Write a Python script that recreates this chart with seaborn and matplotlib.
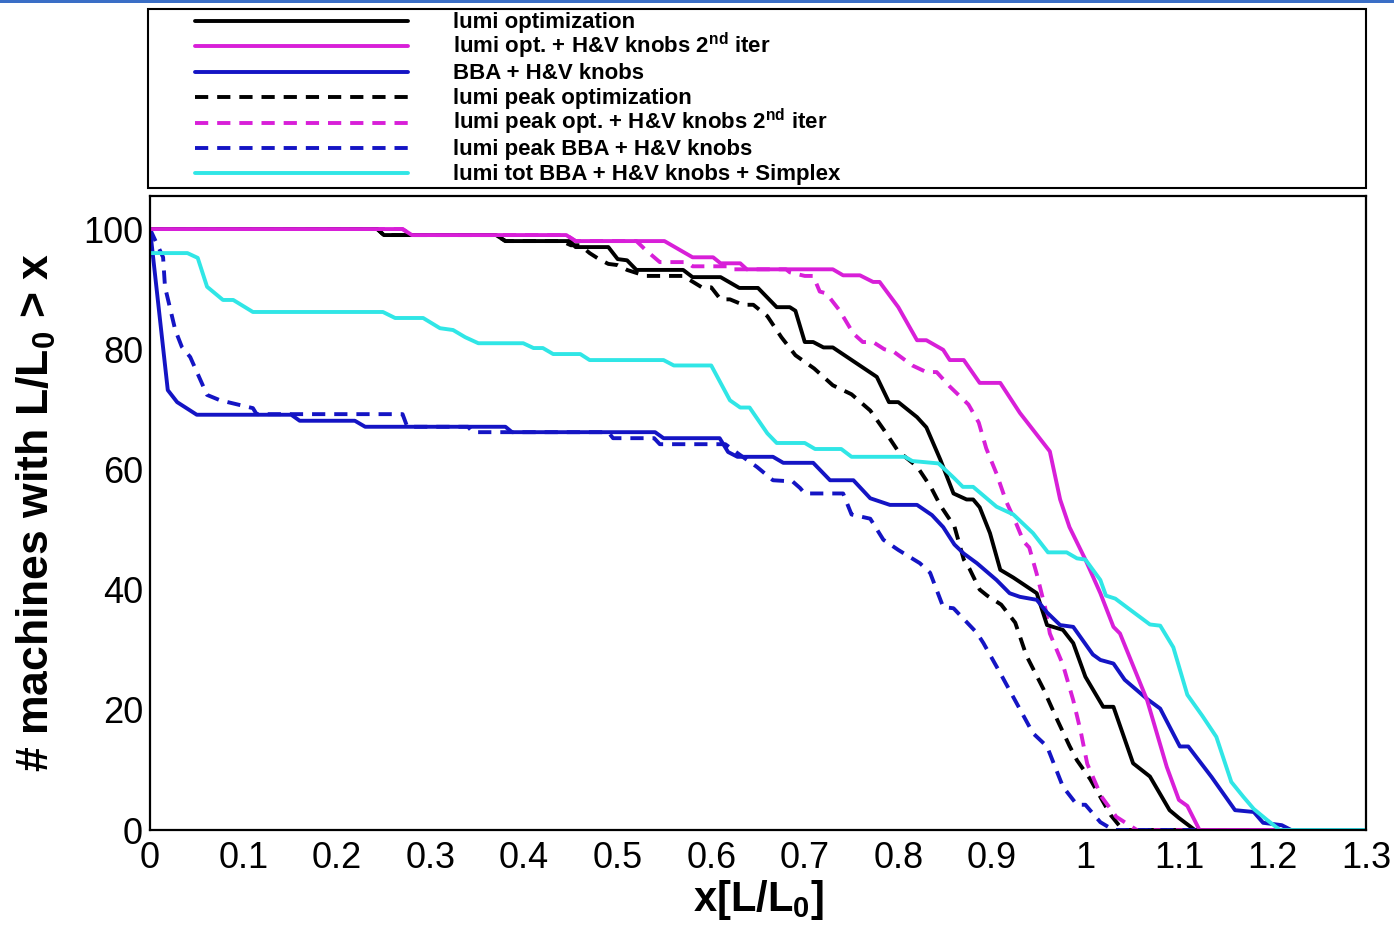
import matplotlib
matplotlib.use("Agg")
import matplotlib.pyplot as plt
import numpy as np
import pandas as pd
import seaborn as sns
from matplotlib.patches import Rectangle
from matplotlib.lines import Line2D

# ---------------- data ----------------
x_lumi_opt = [0, 0.243, 0.25, 0.37, 0.38, 0.449, 0.455, 0.49, 0.50, 0.51,
              0.52, 0.57, 0.58, 0.61, 0.63, 0.65, 0.67, 0.684, 0.69, 0.70,
              0.709, 0.72, 0.73, 0.777, 0.79, 0.80, 0.82, 0.83, 0.845, 0.859,
              0.873, 0.88, 0.887, 0.898, 0.909, 0.923, 0.948, 0.959, 0.976, 0.987,
              1.0, 1.019, 1.03, 1.051, 1.069, 1.09, 1.10, 1.117, 1.3]
y_lumi_opt = [100, 100, 99, 99, 98, 98, 97, 97, 95, 94.8,
              93.2, 93.2, 92, 92, 90.2, 90.2, 87, 87, 86.4, 81.2,
              81.2, 80.3, 80.3, 75.4, 71.2, 71.2, 68.7, 67, 61.6, 56,
              55, 55, 53.7, 49.4, 43.3, 42, 39.4, 34.1, 33.3, 31.1,
              25.5, 20.5, 20.5, 11.1, 8.9, 3.3, 2, 0, 0]

x_lumi_opt_hv = [0, 0.27, 0.28, 0.445, 0.455, 0.55, 0.58, 0.602, 0.61, 0.631,
                 0.638, 0.73, 0.741, 0.759, 0.773, 0.78, 0.80, 0.82, 0.83, 0.848,
                 0.855, 0.87, 0.887, 0.909, 0.93, 0.944, 0.962, 0.973, 0.983, 1.0,
                 1.016, 1.03, 1.037, 1.066, 1.087, 1.10, 1.109, 1.122, 1.3]
y_lumi_opt_hv = [100, 100, 99, 99, 98, 98, 95.3, 95.3, 94.3, 94.3,
                 93.3, 93.3, 92.3, 92.3, 91.2, 91.2, 87, 81.5, 81.5, 79.9,
                 78.2, 78.2, 74.4, 74.4, 69.4, 66.6, 63, 55, 50.4, 45,
                 39.4, 33.8, 32.7, 21.6, 10.5, 5, 4, 0, 0]

x_bba_hv = [0, 0.019, 0.029, 0.05, 0.151, 0.16, 0.219, 0.23, 0.38, 0.387,
            0.54, 0.549, 0.609, 0.618, 0.628, 0.666, 0.677, 0.709, 0.727, 0.752,
            0.77, 0.791, 0.82, 0.836, 0.848, 0.86, 0.87, 0.884, 0.905, 0.919,
            0.93, 0.948, 0.959, 0.973, 0.987, 1.008, 1.016, 1.03, 1.042, 1.066,
            1.08, 1.098, 1.101, 1.11, 1.135, 1.16, 1.18, 1.19, 1.21, 1.22, 1.3]
y_bba_hv = [100, 73.2, 71.2, 69.1, 69.1, 68.1, 68.1, 67.1, 67.1, 66.2,
            66.2, 65.2, 65.2, 62.9, 62.1, 62.1, 61.1, 61.1, 58.2, 58.2,
            55.2, 54.1, 54.1, 52.4, 50.4, 47.5, 46, 44.4, 41.6, 39.4,
            38.8, 38.3, 36.2, 34.1, 33.8, 29.2, 28.3, 27.7, 25, 21.8,
            20.2, 14.8, 13.9, 13.9, 8.8, 3.3, 3, 1.2, 0.8, 0, 0]

x_peak_opt = [0, 0.243, 0.25, 0.37, 0.38, 0.44, 0.45, 0.46, 0.47, 0.48,
              0.49, 0.50, 0.51, 0.53, 0.57, 0.59, 0.60, 0.61, 0.62, 0.634,
              0.645, 0.66, 0.675, 0.69, 0.71, 0.73, 0.75, 0.77, 0.785, 0.80,
              0.82, 0.835, 0.845, 0.86, 0.87, 0.876, 0.887, 0.895, 0.91, 0.925,
              0.937, 0.955, 0.97, 0.983, 0.991, 1.005, 1.027, 1.04, 1.3]
y_peak_opt = [100, 100, 99, 99, 98, 98, 97.3, 97.3, 96, 95,
              94.2, 94, 93.2, 92.2, 92.2, 90.3, 90.3, 88.3, 88.3, 87.4,
              87.4, 85.5, 82, 79, 76.8, 74, 72.5, 69.8, 66.5, 63,
              60.5, 57, 54, 50.5, 45, 43.5, 40, 39, 37.5, 34.5,
              29, 23.5, 18.3, 14, 11.6, 8.5, 2.5, 0, 0]

x_peak_opt_hv = [0, 0.27, 0.28, 0.445, 0.455, 0.52, 0.53, 0.545, 0.574, 0.58,
                 0.62, 0.624, 0.68, 0.684, 0.70, 0.709, 0.716, 0.723, 0.737, 0.752,
                 0.762, 0.773, 0.785, 0.795, 0.815, 0.83, 0.841, 0.855, 0.875, 0.886,
                 0.894, 0.905, 0.915, 0.926, 0.934, 0.94, 0.948, 0.957, 0.962, 0.976,
                 0.987, 0.995, 1.002, 1.017, 1.033, 1.055, 1.3]
y_peak_opt_hv = [100, 100, 99, 99, 98, 98, 96.5, 94.5, 94.5, 93.8,
                 93.8, 93.3, 93.3, 92.8, 92.2, 92.2, 89.6, 89.3, 86.5, 82.6,
                 81.2, 81.2, 80, 79.6, 77.3, 76.2, 76.2, 73.8, 70.8, 67.8,
                 63.5, 59.3, 54.8, 51, 48, 47, 42.6, 37, 32.7, 27.5,
                 21.6, 16.4, 11, 5.6, 2.2, 0, 0]

x_peak_bba = [0, 0.014, 0.016, 0.027, 0.034, 0.043, 0.061, 0.075, 0.11, 0.114,
              0.27, 0.275, 0.34, 0.345, 0.49, 0.495, 0.539, 0.545, 0.615, 0.63,
              0.649, 0.666, 0.687, 0.695, 0.70, 0.741, 0.75, 0.77, 0.784, 0.80,
              0.823, 0.834, 0.848, 0.859, 0.884, 0.891, 0.909, 0.944, 0.959, 0.976,
              0.991, 1.0, 1.016, 1.03, 1.3]
y_peak_bba = [100, 95.3, 90.4, 83.2, 80.4, 78.7, 72.4, 71.5, 70.2, 69.2,
              69.2, 67.1, 67.1, 66.2, 66.2, 65.2, 65.2, 64.2, 64.2, 62.5,
              60.4, 58.2, 58, 56.9, 56, 56, 52.5, 51.8, 48.3, 46.6,
              44.4, 42.8, 37.1, 36.9, 32.8, 31.1, 26.1, 16.1, 13.9, 7.2,
              4.2, 4.2, 1.3, 0, 0]

x_tot_simplex = [0, 0.04, 0.051, 0.061, 0.078, 0.089, 0.11, 0.249, 0.262, 0.292,
                 0.31, 0.324, 0.337, 0.351, 0.399, 0.41, 0.42, 0.431, 0.46, 0.47,
                 0.549, 0.56, 0.60, 0.62, 0.631, 0.641, 0.66, 0.67, 0.70, 0.711,
                 0.739, 0.75, 0.807, 0.815, 0.843, 0.86, 0.869, 0.88, 0.905, 0.923,
                 0.944, 0.96, 0.98, 0.991, 1.0, 1.016, 1.022, 1.032, 1.044, 1.069,
                 1.08, 1.094, 1.109, 1.125, 1.14, 1.156, 1.169, 1.18, 1.194, 1.208, 1.3]
y_tot_simplex = [96, 96, 95.2, 90.4, 88.2, 88.2, 86.2, 86.2, 85.2, 85.2,
                 83.5, 83.2, 82, 81, 81, 80.2, 80.2, 79.2, 79.2, 78.2,
                 78.2, 77.3, 77.3, 71.5, 70.3, 70.3, 66, 64.4, 64.4, 63.4,
                 63.4, 62.1, 62.1, 61.4, 61, 58.5, 57.1, 57.1, 53.8, 52.5,
                 49.4, 46.2, 46.2, 45.2, 45, 41.6, 39, 38.5, 37.1, 34.2,
                 34, 30.4, 22.5, 19, 15.5, 8, 5.5, 3.5, 1.7, 0, 0]

labels = ["lumi optimization",
          "lumi opt. + H&V knobs 2$^{nd}$ iter",
          "BBA + H&V knobs",
          "lumi peak optimization",
          "lumi peak opt. + H&V knobs 2$^{nd}$ iter",
          "lumi peak BBA + H&V knobs",
          "lumi tot BBA + H&V knobs + Simplex"]

x_ticks = [0, 0.1, 0.2, 0.3, 0.4, 0.5, 0.6, 0.7, 0.8, 0.9, 1.0, 1.1, 1.2, 1.3]
x_tick_labels = ["0", "0.1", "0.2", "0.3", "0.4", "0.5", "0.6", "0.7", "0.8",
                 "0.9", "1", "1.1", "1.2", "1.3"]
y_ticks = [0, 20, 40, 60, 80, 100]
y_tick_labels = ["0", "20", "40", "60", "80", "100"]

# ---------------- style ----------------
BLACK = "#000000"
MAGENTA = "#d81fd8"
BLUE = "#1414c4"
CYAN = "#30e6e6"
DASH = (0, (3.4, 2.3))
LW = 2.8

sns.set_theme(style="white")
plt.rcParams["font.family"] = ["Liberation Sans", "DejaVu Sans"]
plt.rcParams["mathtext.default"] = "regular"

W, H = 1394, 934
fig = plt.figure(figsize=(W / 100, H / 100), dpi=100)
fig.patch.set_facecolor("white")
L, R, T, B = 150, 1366, 196, 830
ax = fig.add_axes([L / W, 1 - B / H, (R - L) / W, (B - T) / H])
ax.set_facecolor("white")

series = [
    (x_lumi_opt, y_lumi_opt, BLACK, "-"),
    (x_lumi_opt_hv, y_lumi_opt_hv, MAGENTA, "-"),
    (x_bba_hv, y_bba_hv, BLUE, "-"),
    (x_peak_opt, y_peak_opt, BLACK, DASH),
    (x_peak_opt_hv, y_peak_opt_hv, MAGENTA, DASH),
    (x_peak_bba, y_peak_bba, BLUE, DASH),
    (x_tot_simplex, y_tot_simplex, CYAN, "-"),
]
draw_order = [3, 4, 0, 5, 2, 1, 6]
for i in draw_order:
    xs, ys, col, ls = series[i]
    df = pd.DataFrame({"x": xs, "y": ys})
    sns.lineplot(data=df, x="x", y="y", ax=ax, color=col, linestyle=ls, lw=LW,
                 estimator=None, sort=False, legend=False)

ax.set_xlim(0, 1.3)
ax.set_ylim(0, 105.5)
ax.set_xticks(x_ticks, x_tick_labels)
ax.set_yticks(y_ticks, y_tick_labels)
ax.set_xticks(np.arange(0, 1.3001, 0.02), minor=True)
ax.set_yticks(np.arange(0, 105.1, 5), minor=True)
ax.tick_params(which="both", direction="in", top=False, right=False,
               color="black", width=1.3, labelsize=26, labelcolor="black")
ax.tick_params(axis="x", which="major", length=16.5, pad=8)
ax.tick_params(axis="x", which="minor", length=8.5)
ax.tick_params(axis="y", which="major", length=20, pad=5)
ax.tick_params(axis="y", which="minor", length=9.5)
for s in ax.spines.values():
    s.set_color("black")
    s.set_linewidth(1.6)

ax.set_xlabel("x[L/L$_0$]", fontsize=30, fontweight="bold", color="black")
ax.xaxis.set_label_coords(0.5, -0.075)
ax.set_ylabel("# machines with L/L$_0$ > x", fontsize=32, fontweight="bold", color="black")
ax.yaxis.set_label_coords(-0.076, 0.5)

# legend box with its entries
fig.add_artist(Rectangle((148 / W, 1 - 188 / H), (R - 148) / W, (188 - 9) / H,
                         transform=fig.transFigure, fill=False, ec="black", lw=1.5))
for i, (xs, ys, col, ls) in enumerate(series):
    yc = 21 + 25.4 * i
    fig.add_artist(Line2D([195 / W, 408 / W], [1 - yc / H, 1 - yc / H],
                          transform=fig.transFigure, color=col, linestyle=ls, lw=LW))
    fig.text(453 / W, 1 - (yc + 7) / H, labels[i], ha="left", va="baseline",
             fontsize=16, fontweight="bold", color="black")

# thin blue strip at the very top
fig.add_artist(Rectangle((0, 1 - 3 / H), 1, 3 / H, transform=fig.transFigure,
                         color="#3a6ec6", lw=0))

fig.savefig("out.png", dpi=100)
